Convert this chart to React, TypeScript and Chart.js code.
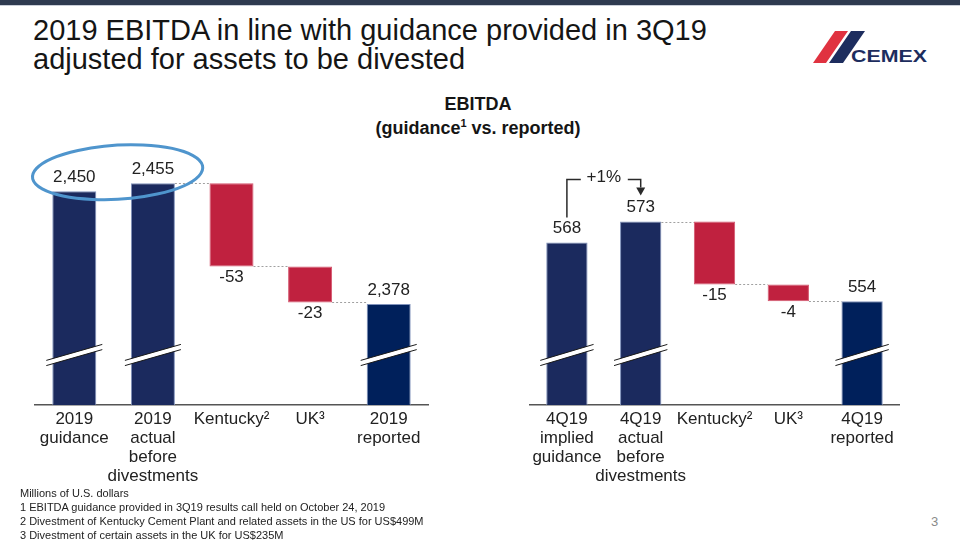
import React, { useEffect, useRef } from "react";
import { Chart, registerables } from "chart.js";

Chart.register(...registerables);

// ---------- data ----------
const leftCategories = [
  ["2019", "guidance"],
  ["2019", "actual", "before", "divestments"],
  ["Kentucky²"],
  ["UK³"],
  ["2019", "reported"],
];
const leftValues = [2450, 2455, -53, -23, 2378];
const leftKinds = ["total", "total", "delta", "delta", "total"];
const leftColors = ["#1b2a5e", "#1b2a5e", "#c0213f", "#c0213f", "#00205b"];
const leftAxisMin = 2313.6;
const leftAxisMax = 2469.9;

const rightCategories = [
  ["4Q19", "implied", "guidance"],
  ["4Q19", "actual", "before", "divestments"],
  ["Kentucky²"],
  ["UK³"],
  ["4Q19", "reported"],
];
const rightValues = [568, 573, -15, -4, 554];
const rightKinds = ["total", "total", "delta", "delta", "total"];
const rightColors = ["#1b2a5e", "#1b2a5e", "#c0213f", "#c0213f", "#00205b"];
const rightAxisMin = 529.2;
const rightAxisMax = 587.7;
const growthLabel = "+1%";

const footnotes = [
  "Millions of U.S. dollars",
  "1 EBITDA guidance provided in 3Q19 results call held on October 24, 2019",
  "2 Divestment of Kentucky Cement Plant and related assets in the US for US$499M",
  "3 Divestment of certain assets in the UK for US$235M",
];

const FONT = '"Liberation Sans", Arial, Helvetica, sans-serif';

function buildWaterfall(values: number[], kinds: string[]) {
  let running = 0;
  const data: any[] = [];
  const levels: number[] = [];
  values.forEach((v, i) => {
    if (kinds[i] === "total") {
      data.push(v);
      running = v;
    } else {
      data.push([running + v, running]);
      running = running + v;
    }
    levels.push(running);
  });
  return { data, levels };
}

const decoPlugin = {
  id: "waterfallDeco",
  afterDatasetsDraw(chart: any, _args: any, opts: any) {
    const { ctx, chartArea } = chart;
    const meta = chart.getDatasetMeta(0);
    const yScale = chart.scales.y;
    const { values, kinds, levels, ellipse, growth } = opts;
    const els = meta.data as any[];
    ctx.save();

    // dotted connectors
    ctx.strokeStyle = "#a0a0a0";
    ctx.lineWidth = 1;
    ctx.setLineDash([2, 2]);
    for (let i = 0; i < values.length - 1; i++) {
      if (kinds[i] === "delta" || kinds[i + 1] === "delta") {
        const a = els[i];
        const b = els[i + 1];
        const y = Math.round(yScale.getPixelForValue(levels[i])) + 0.5;
        ctx.beginPath();
        ctx.moveTo(a.x + a.width / 2, y);
        ctx.lineTo(b.x - b.width / 2, y);
        ctx.stroke();
      }
    }
    ctx.setLineDash([]);

    // axis break marks on total bars
    const by = chartArea.bottom - 50;
    for (let i = 0; i < values.length; i++) {
      if (kinds[i] !== "total") continue;
      const el = els[i];
      const x0 = el.x - el.width / 2 - 6;
      const x1 = el.x + el.width / 2 + 6;
      const dy = 8;
      const g = 2.6;
      ctx.fillStyle = "#ffffff";
      ctx.beginPath();
      ctx.moveTo(x0, by + dy - g);
      ctx.lineTo(x1, by - dy - g);
      ctx.lineTo(x1, by - dy + g);
      ctx.lineTo(x0, by + dy + g);
      ctx.closePath();
      ctx.fill();
      ctx.strokeStyle = "#1a1a1a";
      ctx.lineWidth = 1;
      ctx.beginPath();
      ctx.moveTo(x0, by + dy - g);
      ctx.lineTo(x1, by - dy - g);
      ctx.moveTo(x0, by + dy + g);
      ctx.lineTo(x1, by - dy + g);
      ctx.stroke();
    }

    // value labels
    ctx.font = `17px ${FONT}`;
    ctx.fillStyle = "#222222";
    ctx.textAlign = "center";
    ctx.textBaseline = "middle";
    const labelY: number[] = [];
    for (let i = 0; i < values.length; i++) {
      const el = els[i];
      const top = Math.min(el.y, el.base);
      const bottom = Math.max(el.y, el.base);
      const y = kinds[i] === "total" ? top - 14 : bottom + 11;
      labelY.push(y);
      ctx.fillText(values[i].toLocaleString("en-US"), el.x, y);
    }

    // highlight ellipse
    if (ellipse) {
      const a = els[0];
      const b = els[1];
      const cx = (a.x + b.x) / 2 + 4;
      const cy = (labelY[0] + labelY[1]) / 2 - 1;
      const rx = (b.x - a.x) / 2 + 46;
      ctx.strokeStyle = "#4f95cd";
      ctx.lineWidth = 3;
      ctx.beginPath();
      ctx.ellipse(cx, cy, rx, 27, -0.06, -1.25, -1.25 + Math.PI * 2 + 0.3);
      ctx.stroke();
    }

    // growth bracket
    if (growth) {
      const a = els[0];
      const b = els[1];
      const midX = (a.x + b.x) / 2;
      const bracketY = labelY[1] - 28;
      const tipY = labelY[1] - 12;
      ctx.strokeStyle = "#2a2a2a";
      ctx.fillStyle = "#2a2a2a";
      ctx.lineWidth = 1.5;
      ctx.beginPath();
      ctx.moveTo(a.x, labelY[0] - 11);
      ctx.lineTo(a.x, bracketY);
      ctx.lineTo(midX - 23, bracketY);
      ctx.moveTo(midX + 24, bracketY);
      ctx.lineTo(b.x, bracketY);
      ctx.lineTo(b.x, tipY - 8);
      ctx.stroke();
      ctx.beginPath();
      ctx.moveTo(b.x - 4.5, tipY - 8);
      ctx.lineTo(b.x + 4.5, tipY - 8);
      ctx.lineTo(b.x, tipY);
      ctx.closePath();
      ctx.fill();
      ctx.fillStyle = "#222222";
      ctx.fillText(growth, midX, bracketY - 2);
    }
    ctx.restore();
  },
};

type WFProps = {
  categories: string[][];
  values: number[];
  kinds: string[];
  colors: string[];
  min: number;
  max: number;
  left: number;
  top: number;
  width: number;
  height: number;
  padLeft: number;
  padRight: number;
  padTop: number;
  ellipse?: boolean;
  growth?: string;
};

function Waterfall(p: WFProps) {
  const ref = useRef<HTMLCanvasElement | null>(null);
  useEffect(() => {
    if (!ref.current) return;
    const { data, levels } = buildWaterfall(p.values, p.kinds);
    const chart = new Chart(ref.current, {
      type: "bar",
      data: {
        labels: p.categories,
        datasets: [
          {
            data,
            backgroundColor: p.colors,
            borderColor: p.colors.map((c) => (c === "#c0213f" ? "#d4566e" : "#8092bb")),
            borderWidth: 1,
            borderSkipped: false,
            barPercentage: 0.56,
            categoryPercentage: 1,
          },
        ],
      },
      plugins: [decoPlugin],
      options: {
        responsive: false,
        animation: false,
        layout: { padding: { left: p.padLeft, right: p.padRight, top: p.padTop, bottom: 0 } },
        plugins: {
          legend: { display: false },
          tooltip: { enabled: false },
          waterfallDeco: {
            values: p.values,
            kinds: p.kinds,
            levels,
            ellipse: !!p.ellipse,
            growth: p.growth,
          },
        } as any,
        scales: {
          x: {
            grid: { display: false, drawTicks: false },
            border: { display: true, color: "#555555", width: 1.5 },
            ticks: {
              color: "#222222",
              font: { family: FONT, size: 17, lineHeight: 1.11 },
              padding: 5,
              maxRotation: 0,
              autoSkip: false,
            },
            afterFit: (s: any) => {
              s.height = 85;
            },
          },
          y: {
            display: false,
            min: p.min,
            max: p.max,
          },
        },
      },
    });
    return () => chart.destroy();
  }, []);
  return (
    <canvas
      ref={ref}
      width={p.width}
      height={p.height}
      style={{ position: "absolute", left: p.left, top: p.top, width: p.width, height: p.height }}
    />
  );
}

function Logo() {
  return (
    <svg
      width={130}
      height={40}
      viewBox="805 28 130 40"
      style={{ position: "absolute", left: 805, top: 28 }}
    >
      <polygon points="835,31 848,31 826,63 813,63" fill="#e03240" />
      <polygon points="851,31 865,31 843,63 829,63" fill="#1d2d5e" />
      <text
        x={851}
        y={62}
        fontFamily={FONT}
        fontWeight="bold"
        fontSize={17}
        fill="#1d2d5e"
        textLength={76}
        lengthAdjust="spacingAndGlyphs"
      >
        CEMEX
      </text>
    </svg>
  );
}

export default function App() {
  return (
    <div
      style={{
        position: "fixed",
        left: 0,
        top: 0,
        width: 960,
        height: 540,
        background: "#ffffff",
        overflow: "hidden",
        fontFamily: FONT,
      }}
    >
      <div style={{ position: "absolute", left: 0, top: 0, width: 960, height: 5, background: "#2e3a50" }} />
      <div style={{ position: "absolute", left: 0, top: 5, width: 960, height: 1, background: "#c9ced8" }} />
      <div
        style={{
          position: "absolute",
          left: 33,
          top: 16,
          fontSize: 29,
          lineHeight: "29px",
          color: "#151515",
          whiteSpace: "nowrap",
        }}
      >
        2019 EBITDA in line with guidance provided in 3Q19
        <br />
        adjusted for assets to be divested
      </div>
      <Logo />
      <div
        style={{
          position: "absolute",
          left: 0,
          top: 92,
          width: 956,
          textAlign: "center",
          fontSize: 18,
          lineHeight: "24px",
          fontWeight: "bold",
          color: "#151515",
        }}
      >
        EBITDA
        <br />
        (guidance<sup style={{ fontSize: 11, lineHeight: 0 }}>1</sup> vs. reported)
      </div>
      <Waterfall
        categories={leftCategories}
        values={leftValues}
        kinds={leftKinds}
        colors={leftColors}
        min={leftAxisMin}
        max={leftAxisMax}
        left={0}
        top={130}
        width={470}
        height={360}
        padLeft={35}
        padRight={42}
        padTop={30}
        ellipse
      />
      <Waterfall
        categories={rightCategories}
        values={rightValues}
        kinds={rightKinds}
        colors={rightColors}
        min={rightAxisMin}
        max={rightAxisMax}
        left={480}
        top={130}
        width={480}
        height={360}
        padLeft={50}
        padRight={61}
        padTop={30}
        growth={growthLabel}
      />
      <div
        style={{
          position: "absolute",
          left: 20,
          top: 486,
          fontSize: 11,
          lineHeight: "14px",
          color: "#222222",
          whiteSpace: "nowrap",
        }}
      >
        {footnotes.map((f, i) => (
          <div key={i}>{f}</div>
        ))}
      </div>
      <div style={{ position: "absolute", left: 931, top: 514, fontSize: 13, color: "#8a8a8a" }}>3</div>
    </div>
  );
}
